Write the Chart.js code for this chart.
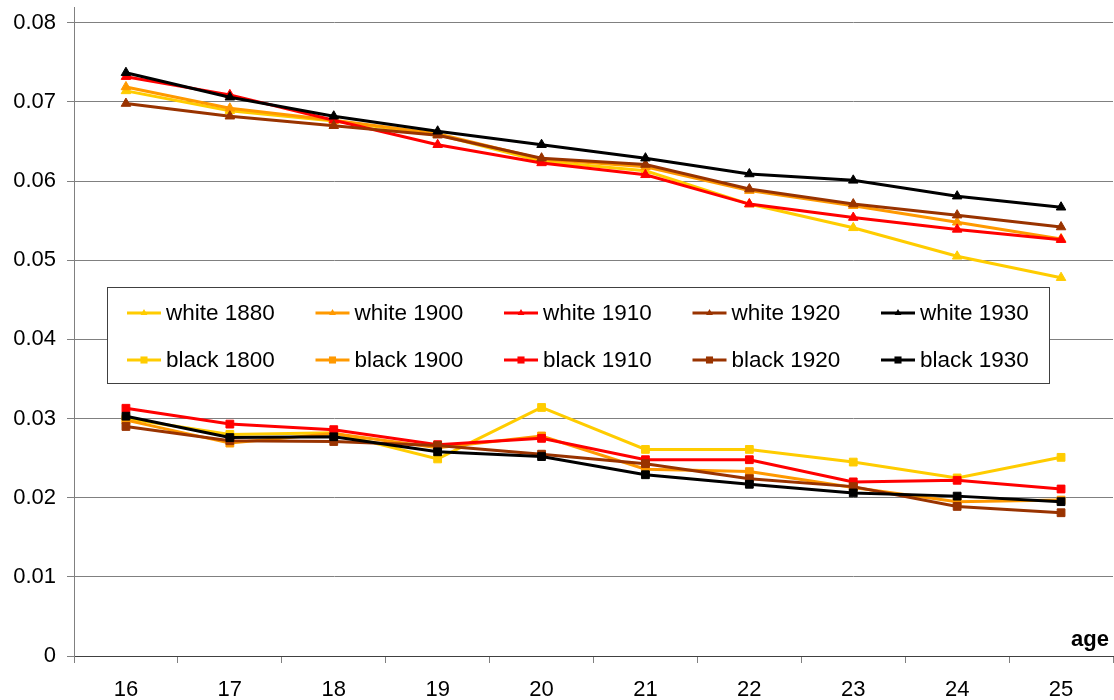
<!DOCTYPE html>
<html>
<head>
<meta charset="utf-8">
<script src="https://cdn.jsdelivr.net/npm/chart.js@4/dist/chart.umd.min.js"></script>
<style>
  html, body { margin: 0; padding: 0; background: #fff; }
  #wrap { position: relative; width: 1114px; height: 700px; }
  canvas { display: block; }
</style>
</head>
<body>
<div id="wrap"><canvas id="c" width="1114" height="700"></canvas></div>
<script>
const ages = ['16', '17', '18', '19', '20', '21', '22', '23', '24', '25'];
const yTicks = [0, 0.01, 0.02, 0.03, 0.04, 0.05, 0.06, 0.07, 0.08];
const seriesNames = ['white 1880', 'white 1900', 'white 1910', 'white 1920', 'white 1930',
                     'black 1800', 'black 1900', 'black 1910', 'black 1920', 'black 1930'];
const white1880 = [0.0714, 0.0689, 0.0676, 0.0659, 0.0625, 0.0613, 0.0571, 0.0541, 0.0505, 0.0478];
const white1900 = [0.0719, 0.0692, 0.0677, 0.0660, 0.0628, 0.0618, 0.0588, 0.0569, 0.0548, 0.0527];
const white1910 = [0.0732, 0.0709, 0.0677, 0.0646, 0.0623, 0.0608, 0.0571, 0.0554, 0.0539, 0.0526];
const white1920 = [0.0698, 0.0682, 0.0670, 0.0658, 0.0629, 0.0621, 0.0590, 0.0571, 0.0557, 0.0542];
const white1930 = [0.0737, 0.0706, 0.0682, 0.0663, 0.0646, 0.0629, 0.0609, 0.0601, 0.0581, 0.0567];
const black1800 = [0.0300, 0.0280, 0.0282, 0.0249, 0.0314, 0.0261, 0.0261, 0.0245, 0.0225, 0.0251];
const black1900 = [0.0298, 0.0269, 0.0281, 0.0263, 0.0278, 0.0236, 0.0233, 0.0213, 0.0195, 0.0197];
const black1910 = [0.0313, 0.0293, 0.0286, 0.0267, 0.0275, 0.0248, 0.0248, 0.0220, 0.0222, 0.0211];
const black1920 = [0.0290, 0.0272, 0.0271, 0.0266, 0.0255, 0.0243, 0.0224, 0.0214, 0.0189, 0.0181];
const black1930 = [0.0303, 0.0276, 0.0277, 0.0258, 0.0252, 0.0229, 0.0217, 0.0206, 0.0202, 0.0195];
const xAxisLabel = 'age';

const seriesValues = [white1880, white1900, white1910, white1920, white1930,
                      black1800, black1900, black1910, black1920, black1930];
const palette = ['#FFCC00', '#FF9900', '#FF0000', '#993300', '#000000'];
const FONT = '"Liberation Sans", Arial, sans-serif';

const datasets = seriesValues.map((vals, i) => {
  const isWhite = i < 5;
  const col = palette[i % 5];
  return {
    label: seriesNames[i],
    data: vals,
    borderColor: col,
    backgroundColor: col,
    borderWidth: 3,
    pointStyle: isWhite ? 'triangle' : 'rect',
    pointRadius: isWhite ? 5.5 : 5.5,
    pointBorderWidth: 1,
    pointHoverRadius: 5.5,
    tension: 0,
    order: 20 - i
  };
});

function drawMarker(ctx, style, x, y, r) {
  ctx.beginPath();
  if (style === 'triangle') {
    ctx.moveTo(x, y - r);
    ctx.lineTo(x + r * 0.866, y + r * 0.5);
    ctx.lineTo(x - r * 0.866, y + r * 0.5);
    ctx.closePath();
  } else {
    const s = r * Math.SQRT1_2;
    ctx.rect(x - s, y - s, 2 * s, 2 * s);
  }
  ctx.fill();
}

const legendPlugin = {
  id: 'boxLegend',
  afterDatasetsDraw(chart) {
    const ctx = chart.ctx;
    ctx.save();
    const bx = 107, by = 287, bw = 942, bh = 96;
    ctx.fillStyle = '#ffffff';
    ctx.fillRect(bx, by, bw, bh);
    ctx.strokeStyle = '#404040';
    ctx.lineWidth = 1;
    ctx.strokeRect(bx + 0.5, by + 0.5, bw, bh);
    ctx.font = '22.5px ' + FONT;
    ctx.textBaseline = 'middle';
    ctx.textAlign = 'left';
    chart.data.datasets.forEach((ds, i) => {
      const col = i % 5, row = Math.floor(i / 5);
      const x0 = 127 + col * 188.5;
      const y0 = row === 0 ? 313 : 360;
      ctx.strokeStyle = ds.borderColor;
      ctx.lineWidth = 3;
      ctx.beginPath();
      ctx.moveTo(x0, y0);
      ctx.lineTo(x0 + 34, y0);
      ctx.stroke();
      ctx.fillStyle = ds.borderColor;
      drawMarker(ctx, ds.pointStyle, x0 + 17, y0, ds.pointStyle === 'triangle' ? 4 : 5);
      ctx.fillStyle = '#000';
      ctx.fillText(ds.label, x0 + 39, y0 + 1);
    });
    ctx.font = 'bold 22px ' + FONT;
    ctx.textAlign = 'right';
    ctx.textBaseline = 'alphabetic';
    ctx.fillStyle = '#000';
    ctx.fillText(xAxisLabel, 1109, 646);
    ctx.restore();
  }
};

new Chart(document.getElementById('c'), {
  type: 'line',
  data: { labels: ages, datasets },
  options: {
    responsive: false,
    animation: false,
    layout: { autoPadding: false, padding: { top: 7, right: 1, left: 0, bottom: 0 } },
    plugins: { legend: { display: false }, tooltip: { enabled: false } },
    scales: {
      x: {
        offset: true,
        grid: {
          offset: true,
          drawOnChartArea: false,
          drawTicks: true,
          tickLength: 7,
          color: '#808080'
        },
        border: { color: '#404040', width: 1 },
        ticks: { color: '#000', font: { size: 22, family: FONT }, padding: 14, maxRotation: 0 },
        afterFit(scale) {
          scale.height = 44;
          scale.paddingLeft = 0;
          scale.paddingRight = 0;
        }
      },
      y: {
        min: 0,
        max: 0.082,
        afterBuildTicks(scale) { scale.ticks = yTicks.map(v => ({ value: v })); },
        grid: { color: '#808080', tickLength: 7, lineWidth: 1 },
        border: { color: '#808080', width: 1 },
        ticks: {
          color: '#000',
          font: { size: 22, family: FONT },
          padding: 11,
          callback: v => (v === 0 ? '0' : v.toFixed(2))
        },
        afterFit(scale) {
          scale.width = 74;
          scale.paddingTop = 0;
          scale.paddingBottom = 0;
        }
      }
    }
  },
  plugins: [legendPlugin]
});
</script>
</body>
</html>
